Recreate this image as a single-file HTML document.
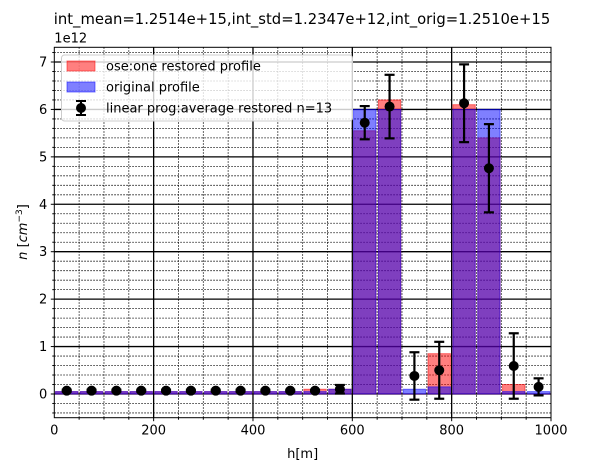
<!DOCTYPE html>
<html><head><meta charset="utf-8"><style>
body{margin:0;background:#fff;}
svg text{font-family:"DejaVu Sans","Liberation Sans",sans-serif;fill:#000;}
</style></head><body>
<svg id="chart" width="590" height="470" viewBox="0 0 590 470" xmlns="http://www.w3.org/2000/svg">
<rect width="590" height="470" fill="#fff"/>
<text x="302" y="24" font-size="14.8" text-anchor="middle">int_mean=1.2514e+15,int_std=1.2347e+12,int_orig=1.2510e+15</text>
<g id="grid"></g>
<g id="bars"></g>
<g id="errs"></g>
<g id="axes"></g>
<g id="legend"></g>
</svg>
<script>
const binCenters=[25,75,125,175,225,275,325,375,425,475,525,575,625,675,725,775,825,875,925,975];
const restored=[0.05,0.05,0.05,0.05,0.05,0.05,0.05,0.05,0.05,0.05,0.1,0.1,5.55,6.2,0.0,0.85,6.1,5.4,0.2,0.0];
const original=[0.05,0.05,0.05,0.05,0.05,0.05,0.05,0.05,0.05,0.05,0.05,0.1,6.0,6.0,0.1,0.15,6.0,6.0,0.05,0.05];
const avgMean=[0.07,0.07,0.07,0.07,0.07,0.07,0.07,0.07,0.07,0.07,0.07,0.1,5.72,6.06,0.38,0.5,6.13,4.76,0.59,0.15];
const avgErr=[0.02,0.02,0.02,0.02,0.02,0.02,0.02,0.02,0.02,0.02,0.02,0.09,0.35,0.67,0.5,0.6,0.82,0.93,0.69,0.18];
const xTicks=[0,200,400,600,800,1000];
const yTicks=[0,1,2,3,4,5,6,7];
const L=54.3,R=551,T=47.3,B=417.7,XMIN=0,XMAX=1000,YMIN=-0.5,YMAX=7.31;
const NS="http://www.w3.org/2000/svg";
function sx(v){return L+(v-XMIN)/(XMAX-XMIN)*(R-L);}
function sy(v){return B-(v-YMIN)/(YMAX-YMIN)*(B-T);}
function mk(p,tag,at){const e=document.createElementNS(NS,tag);for(const k in at)e.setAttribute(k,at[k]);p.appendChild(e);return e;}
const grid=document.getElementById('grid');
for(let x=50;x<1000;x+=50){
const l=mk(grid,'line',{x1:sx(x),x2:sx(x),y1:T,y2:B,stroke:'#000','stroke-width':x%200===0?1.3:0.8,'stroke-dasharray':x%200===0?'':'1.5,1.5'});

}
for(let i=-2;i<=36;i++){const y=i/5;if(y<YMIN||y>YMAX)continue;const maj=i%5===0;
const l=mk(grid,'line',{x1:L,x2:R,y1:sy(y),y2:sy(y),stroke:'#000','stroke-width':maj?1.3:0.8,'stroke-dasharray':maj?'':'1.5,1.5'});

}
const bars=document.getElementById('bars');const w=45;
function drawBars(vals,col,name){vals.forEach((v,i)=>{const x0=sx(binCenters[i]-w/2),x1=sx(binCenters[i]+w/2);const y0=sy(Math.max(v,0)),y1=sy(Math.min(v,0));
const r=mk(bars,'rect',{x:x0,y:y0,width:x1-x0,height:Math.max(y1-y0,0.01),fill:col,'fill-opacity':0.5,stroke:col,'stroke-opacity':0.5,'stroke-width':1});

});}
drawBars(restored,'#ff0000','restored-bar');
drawBars(original,'#0000ff','original-bar');
const errs=document.getElementById('errs');
avgMean.forEach((m,i)=>{const g=mk(errs,'g',{});


const cx=sx(binCenters[i]),e=avgErr[i];
mk(g,'line',{x1:cx,x2:cx,y1:sy(m+e),y2:sy(m-e),stroke:'#000','stroke-width':2.2});
mk(g,'line',{x1:cx-5,x2:cx+5,y1:sy(m+e),y2:sy(m+e),stroke:'#000','stroke-width':2.2});
mk(g,'line',{x1:cx-5,x2:cx+5,y1:sy(m-e),y2:sy(m-e),stroke:'#000','stroke-width':2.2});
mk(g,'circle',{cx:cx,cy:sy(m),r:5,fill:'#000'});});
const ax=document.getElementById('axes');
const fr=mk(ax,'rect',{x:L,y:T,width:R-L,height:B-T,fill:'none',stroke:'#000','stroke-width':1});


for(let x=50;x<=1000;x+=50){mk(ax,'line',{x1:sx(x),x2:sx(x),y1:B,y2:B+(x%200===0?3.5:2),stroke:'#000'});}
xTicks.forEach(x=>{const t=mk(ax,'text',{x:sx(x),y:B+17,'font-size':13,'text-anchor':'middle'});t.textContent=x;

});
yTicks.forEach(y=>{mk(ax,'line',{x1:L-3.5,x2:L,y1:sy(y),y2:sy(y),stroke:'#000'});const t=mk(ax,'text',{x:L-7,y:sy(y)+4.5,'font-size':13,'text-anchor':'end'});t.textContent=y;

});
for(let i=-2;i<=36;i++){const y=i/5;if(y<YMIN||y>YMAX||i%5===0)continue;mk(ax,'line',{x1:L-2,x2:L,y1:sy(y),y2:sy(y),stroke:'#000'});}
let t=mk(ax,'text',{x:L,y:T-5,'font-size':13});t.textContent='1e12';


t=mk(ax,'text',{x:(L+R)/2,y:458,'font-size':13,'text-anchor':'middle'});t.textContent='h[m]';


t=mk(ax,'text',{x:0,y:0,'font-size':13,'text-anchor':'middle',transform:'translate(27,232) rotate(-90)'});
t.innerHTML='<tspan font-style="italic">n</tspan> [<tspan font-style="italic">cm</tspan><tspan dy="-5" font-size="9">−3</tspan><tspan dy="5">]</tspan>';


const lg=document.getElementById('legend');
const box=mk(lg,'rect',{x:61.5,y:55,width:291,height:66,rx:3,fill:'#fff','fill-opacity':0.8,stroke:'#ccc'});


const entries=[['ose:one restored profile','#ff0000'],['original profile','#0000ff'],['linear prog:average restored n=13',null]];
entries.forEach((en,i)=>{const g=mk(lg,'g',{});


const yc=66+i*21;
if(en[1]){mk(g,'rect',{x:67,y:yc-5,width:28,height:10,fill:en[1],'fill-opacity':0.5,stroke:en[1],'stroke-opacity':0.5});}
else{mk(g,'line',{x1:81,x2:81,y1:yc-7,y2:yc+7,stroke:'#000','stroke-width':2});mk(g,'line',{x1:76,x2:86,y1:yc-7,y2:yc-7,stroke:'#000','stroke-width':2});mk(g,'line',{x1:76,x2:86,y1:yc+7,y2:yc+7,stroke:'#000','stroke-width':2});mk(g,'circle',{cx:81,cy:yc,r:5,fill:'#000'});}
const tx=mk(g,'text',{x:106,y:yc+4.5,'font-size':13});tx.textContent=en[0];});
</script>
</body></html>
